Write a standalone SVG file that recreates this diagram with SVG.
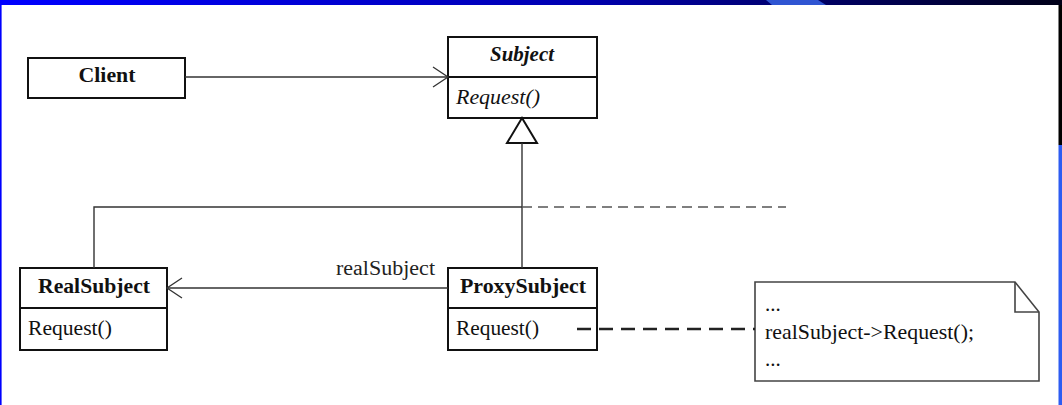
<svg xmlns="http://www.w3.org/2000/svg" width="1062" height="405" viewBox="0 0 1062 405">
  <defs>
    <linearGradient id="topBar" x1="0" y1="0" x2="1" y2="0">
      <stop offset="0" stop-color="#0000ff"/>
      <stop offset="0.55" stop-color="#0000b0"/>
      <stop offset="1" stop-color="#000018"/>
    </linearGradient>
    <marker id="openArrow" markerWidth="18" markerHeight="22" refX="16" refY="11" orient="auto" markerUnits="userSpaceOnUse">
      <path d="M1,1 L16,11 L1,21" fill="none" stroke="#333" stroke-width="1.3"/>
    </marker>
  </defs>
  <style>
    .box { fill: #fff; stroke: #111; stroke-width: 2; }
    .div { stroke: #111; stroke-width: 2; }
    .conn { fill: none; stroke: #333; stroke-width: 1.4; }
    .dash { fill: none; stroke: #555; stroke-width: 1.6; stroke-dasharray: 10 6; }
    .dep { fill: none; stroke: #222; stroke-width: 2.4; stroke-dasharray: 14 8; }
    .title { font-family: "Liberation Serif", "Times New Roman", serif; font-weight: bold; font-size: 21px; fill: #111; text-anchor: middle; }
    .op { font-family: "Liberation Serif", "Times New Roman", serif; font-size: 21px; fill: #111; }
    .it { font-style: italic; }
    .lbl { font-family: "Liberation Serif", "Times New Roman", serif; font-size: 20px; fill: #222; }
    .note { fill: #fff; stroke: #444; stroke-width: 1.6; }
  </style>

  <!-- page frame -->
  <rect x="0" y="0" width="1062" height="405" fill="#fff"/>
  <rect x="0" y="0" width="1062" height="5" fill="url(#topBar)"/>
  <polygon points="766,0 818,0 826,5 772,5" fill="#2f55d2"/>
  <rect x="0" y="0" width="1.6" height="405" fill="#0000ff"/>
  <rect x="1058.5" y="5" width="3.5" height="140" fill="#000"/>
  <rect x="1058.5" y="145" width="3.5" height="260" fill="#2d5cf2"/>

  <g id="client">
    <rect class="box" x="28" y="58" width="157" height="40"/>
    <text class="title" x="107" y="82" textLength="57" lengthAdjust="spacingAndGlyphs">Client</text>
  </g>

  <g id="subject">
    <rect class="box" x="448" y="37" width="149" height="81"/>
    <line class="div" x1="448" y1="77" x2="597" y2="77"/>
    <text class="title it" x="522" y="61" textLength="64" lengthAdjust="spacingAndGlyphs">Subject</text>
    <text class="op it" x="456" y="104" textLength="84" lengthAdjust="spacingAndGlyphs">Request()</text>
  </g>

  <g id="realSubject">
    <rect class="box" x="20" y="268" width="147" height="82"/>
    <line class="div" x1="20" y1="308" x2="167" y2="308"/>
    <text class="title" x="94" y="293" textLength="112" lengthAdjust="spacingAndGlyphs">RealSubject</text>
    <text class="op" x="28" y="335" textLength="84" lengthAdjust="spacingAndGlyphs">Request()</text>
  </g>

  <g id="proxySubject">
    <rect class="box" x="448" y="268" width="149" height="82"/>
    <line class="div" x1="448" y1="308" x2="597" y2="308"/>
    <text class="title" x="523" y="293" textLength="126" lengthAdjust="spacingAndGlyphs">ProxySubject</text>
    <text class="op" x="456" y="335" textLength="83" lengthAdjust="spacingAndGlyphs">Request()</text>
  </g>

  <g id="note">
    <path class="note" d="M755,282 L1015,282 L1039,312 L1039,381 L755,381 Z"/>
    <polyline fill="none" stroke="#444" stroke-width="1.6" points="1015,282 1015,312 1039,312"/>
    <text class="op" x="765" y="311">...</text>
    <text class="op" x="765" y="339" textLength="209" lengthAdjust="spacingAndGlyphs">realSubject-&gt;Request();</text>
    <text class="op" x="765" y="366">...</text>
  </g>

  <!-- connectors, drawn over the boxes -->
  <g id="connectors">
    <line class="conn" x1="185" y1="77" x2="448" y2="77" marker-end="url(#openArrow)"/>
    <polygon points="522,118 507,143 537,143" fill="#fff" stroke="#111" stroke-width="2"/>
    <line class="conn" x1="522" y1="143" x2="522" y2="268" stroke="#111"/>
    <polyline class="conn" points="94,268 94,207 522,207"/>
    <line class="dash" x1="522" y1="207" x2="786" y2="207"/>
    <line class="conn" x1="448" y1="288" x2="167" y2="288" marker-end="url(#openArrow)"/>
    <text class="lbl" x="336" y="275" textLength="99" lengthAdjust="spacingAndGlyphs">realSubject</text>
    <line class="dep" x1="577" y1="329" x2="755" y2="329"/>
  </g>
</svg>
